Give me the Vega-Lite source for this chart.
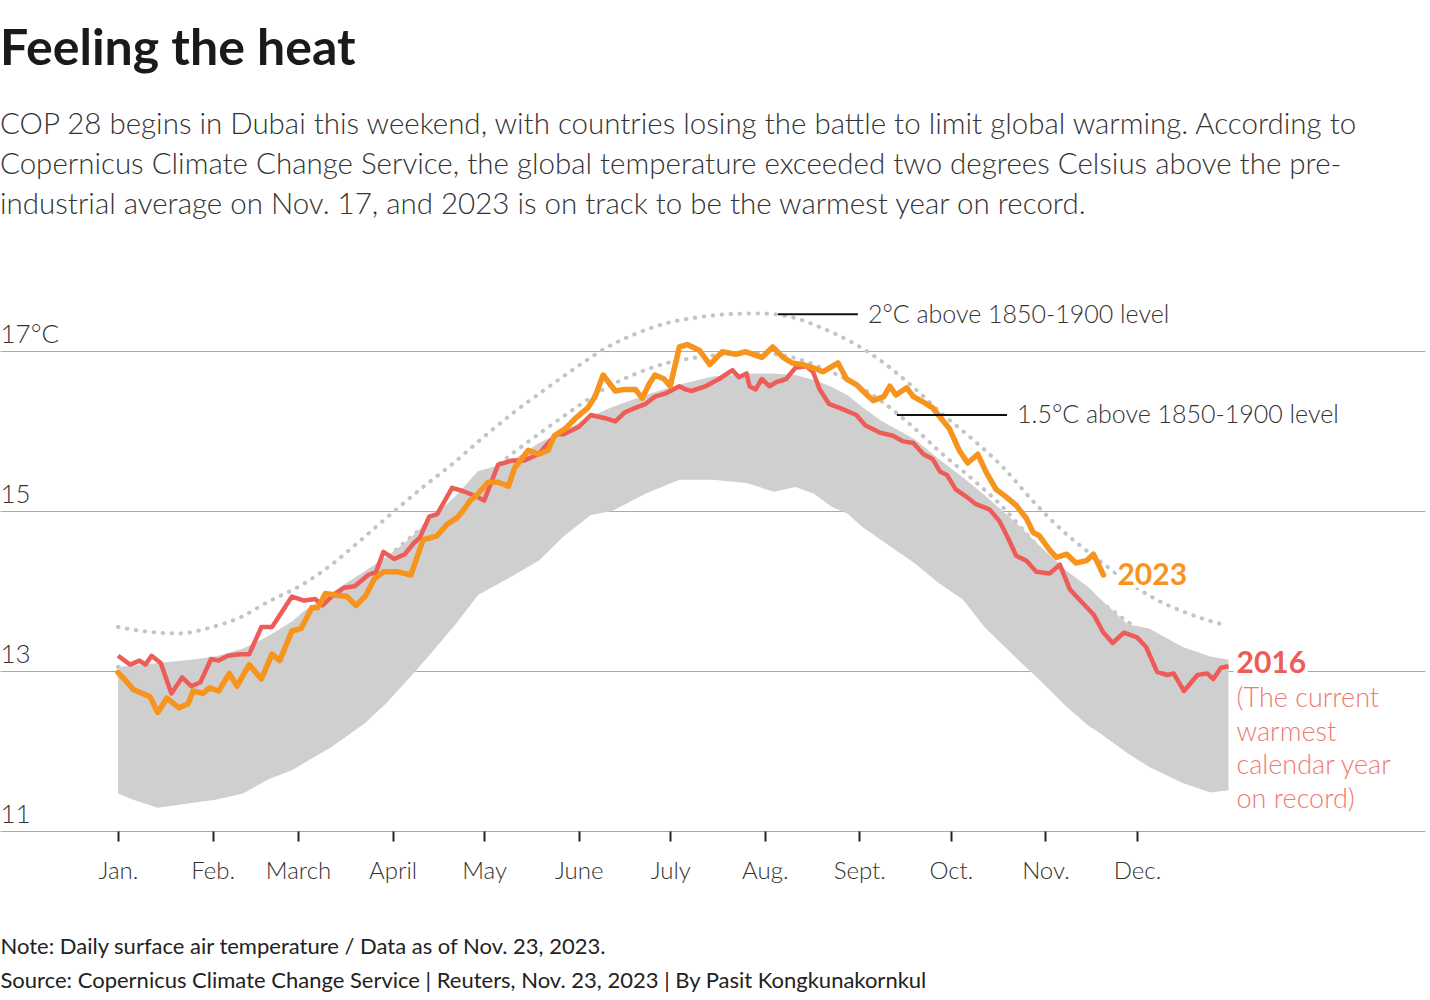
{
  "$schema": "https://vega.github.io/schema/vega-lite/v6.json",
  "width": 1425,
  "height": 560,
  "autosize": {"type": "none"},
  "padding": {"left": 0, "top": 271, "right": 5, "bottom": 169},
  "background": "white",
  "config": {"view": {"stroke": null}, "font": "Lato"},
  "title": {
    "text": "Feeling the heat",
    "subtitle": [
      "COP 28 begins in Dubai this weekend, with countries losing the battle to limit global warming. According to",
      "Copernicus Climate Change Service, the global temperature exceeded two degrees Celsius above the pre-",
      "industrial average on Nov. 17, and 2023 is on track to be the warmest year on record."
    ],
    "anchor": "start",
    "frame": "group",
    "font": "Lato",
    "fontSize": 50,
    "fontWeight": "bold",
    "color": "#1a1a1a",
    "subtitleFont": "Lato",
    "subtitleFontSize": 29.5,
    "subtitleFontWeight": 300,
    "subtitleColor": "#333333",
    "subtitleLineHeight": 40,
    "subtitlePadding": 36,
    "offset": 52
  },
  "datasets": {
    "dotted": [
      {"s": "2C", "day": 0, "t": 13.55}, {"s": "2C", "day": 10, "t": 13.49}, {"s": "2C", "day": 20, "t": 13.47}, {"s": "2C", "day": 30, "t": 13.54},
      {"s": "2C", "day": 40, "t": 13.67}, {"s": "2C", "day": 50, "t": 13.88}, {"s": "2C", "day": 60, "t": 14.07}, {"s": "2C", "day": 70, "t": 14.33},
      {"s": "2C", "day": 80, "t": 14.65}, {"s": "2C", "day": 90, "t": 14.98}, {"s": "2C", "day": 100, "t": 15.3}, {"s": "2C", "day": 110, "t": 15.6},
      {"s": "2C", "day": 120, "t": 15.93}, {"s": "2C", "day": 130, "t": 16.24}, {"s": "2C", "day": 140, "t": 16.52}, {"s": "2C", "day": 150, "t": 16.79},
      {"s": "2C", "day": 160, "t": 17.04}, {"s": "2C", "day": 170, "t": 17.22}, {"s": "2C", "day": 180, "t": 17.35}, {"s": "2C", "day": 190, "t": 17.42},
      {"s": "2C", "day": 200, "t": 17.46}, {"s": "2C", "day": 210, "t": 17.47}, {"s": "2C", "day": 220, "t": 17.43}, {"s": "2C", "day": 230, "t": 17.3},
      {"s": "2C", "day": 240, "t": 17.12}, {"s": "2C", "day": 250, "t": 16.88}, {"s": "2C", "day": 260, "t": 16.57}, {"s": "2C", "day": 270, "t": 16.22},
      {"s": "2C", "day": 280, "t": 15.9}, {"s": "2C", "day": 290, "t": 15.55}, {"s": "2C", "day": 300, "t": 15.12}, {"s": "2C", "day": 310, "t": 14.74},
      {"s": "2C", "day": 320, "t": 14.43}, {"s": "2C", "day": 330, "t": 14.14}, {"s": "2C", "day": 340, "t": 13.9}, {"s": "2C", "day": 350, "t": 13.73},
      {"s": "2C", "day": 363, "t": 13.57},
      {"s": "15C", "day": 0, "t": 13.05}, {"s": "15C", "day": 10, "t": 12.99}, {"s": "15C", "day": 20, "t": 12.97}, {"s": "15C", "day": 30, "t": 13.04},
      {"s": "15C", "day": 40, "t": 13.17}, {"s": "15C", "day": 50, "t": 13.38}, {"s": "15C", "day": 60, "t": 13.57}, {"s": "15C", "day": 70, "t": 13.83},
      {"s": "15C", "day": 80, "t": 14.15}, {"s": "15C", "day": 90, "t": 14.48}, {"s": "15C", "day": 100, "t": 14.8}, {"s": "15C", "day": 110, "t": 15.1},
      {"s": "15C", "day": 120, "t": 15.43}, {"s": "15C", "day": 130, "t": 15.74}, {"s": "15C", "day": 140, "t": 16.02}, {"s": "15C", "day": 150, "t": 16.29},
      {"s": "15C", "day": 160, "t": 16.54}, {"s": "15C", "day": 170, "t": 16.72}, {"s": "15C", "day": 180, "t": 16.85}, {"s": "15C", "day": 190, "t": 16.92},
      {"s": "15C", "day": 200, "t": 16.96}, {"s": "15C", "day": 210, "t": 16.97}, {"s": "15C", "day": 220, "t": 16.93}, {"s": "15C", "day": 230, "t": 16.8},
      {"s": "15C", "day": 240, "t": 16.62}, {"s": "15C", "day": 250, "t": 16.38}, {"s": "15C", "day": 260, "t": 16.07}, {"s": "15C", "day": 270, "t": 15.72},
      {"s": "15C", "day": 280, "t": 15.4}, {"s": "15C", "day": 290, "t": 15.05}, {"s": "15C", "day": 300, "t": 14.62}, {"s": "15C", "day": 310, "t": 14.24},
      {"s": "15C", "day": 320, "t": 13.93}, {"s": "15C", "day": 330, "t": 13.64}, {"s": "15C", "day": 340, "t": 13.4}, {"s": "15C", "day": 350, "t": 13.23},
      {"s": "15C", "day": 363, "t": 13.07}
    ],
    "band": [
      {"day": 0, "t": 11.47, "t2": 13.05}, {"day": 5, "t": 11.39, "t2": 13.07}, {"day": 13, "t": 11.29, "t2": 13.1}, {"day": 24, "t": 11.35, "t2": 13.14},
      {"day": 32, "t": 11.39, "t2": 13.18}, {"day": 41, "t": 11.47, "t2": 13.28}, {"day": 49, "t": 11.64, "t2": 13.43}, {"day": 57, "t": 11.76, "t2": 13.62},
      {"day": 61, "t": 11.85, "t2": 13.75}, {"day": 70, "t": 12.05, "t2": 13.98}, {"day": 81, "t": 12.35, "t2": 14.25}, {"day": 88, "t": 12.6, "t2": 14.43},
      {"day": 94, "t": 12.85, "t2": 14.6}, {"day": 101, "t": 13.15, "t2": 14.85}, {"day": 111, "t": 13.6, "t2": 15.2}, {"day": 118, "t": 13.95, "t2": 15.5},
      {"day": 128, "t": 14.16, "t2": 15.6}, {"day": 138, "t": 14.38, "t2": 15.85}, {"day": 146, "t": 14.68, "t2": 16.0}, {"day": 155, "t": 14.95, "t2": 16.18},
      {"day": 162, "t": 15.0, "t2": 16.3}, {"day": 173, "t": 15.22, "t2": 16.45}, {"day": 184, "t": 15.39, "t2": 16.58}, {"day": 195, "t": 15.39, "t2": 16.68},
      {"day": 206, "t": 15.35, "t2": 16.72}, {"day": 215, "t": 15.24, "t2": 16.72}, {"day": 222, "t": 15.3, "t2": 16.7}, {"day": 228, "t": 15.22, "t2": 16.64},
      {"day": 234, "t": 15.05, "t2": 16.55}, {"day": 239, "t": 14.97, "t2": 16.45}, {"day": 244, "t": 14.8, "t2": 16.3}, {"day": 250, "t": 14.64, "t2": 16.13},
      {"day": 261, "t": 14.35, "t2": 15.9}, {"day": 269, "t": 14.1, "t2": 15.65}, {"day": 277, "t": 13.89, "t2": 15.42}, {"day": 284, "t": 13.55, "t2": 15.2},
      {"day": 295, "t": 13.14, "t2": 14.83}, {"day": 302, "t": 12.89, "t2": 14.57}, {"day": 311, "t": 12.55, "t2": 14.25}, {"day": 318, "t": 12.32, "t2": 14.05},
      {"day": 322, "t": 12.22, "t2": 13.9}, {"day": 331, "t": 11.97, "t2": 13.58}, {"day": 338, "t": 11.8, "t2": 13.53}, {"day": 349, "t": 11.6, "t2": 13.3},
      {"day": 358, "t": 11.48, "t2": 13.18}, {"day": 364, "t": 11.51, "t2": 13.14}
    ],
    "y2016": [
      {"day": 0, "t": 13.19}, {"day": 4, "t": 13.08}, {"day": 7, "t": 13.13}, {"day": 9, "t": 13.08}, {"day": 11, "t": 13.19}, {"day": 14, "t": 13.1},
      {"day": 17.5, "t": 12.72}, {"day": 21, "t": 12.92}, {"day": 24, "t": 12.81}, {"day": 27, "t": 12.86}, {"day": 30.5, "t": 13.15}, {"day": 33, "t": 13.13},
      {"day": 36, "t": 13.19}, {"day": 40, "t": 13.21}, {"day": 43, "t": 13.21}, {"day": 47, "t": 13.55}, {"day": 50.5, "t": 13.55}, {"day": 57, "t": 13.93},
      {"day": 61, "t": 13.88}, {"day": 64.6, "t": 13.9}, {"day": 67, "t": 13.82}, {"day": 70, "t": 13.93}, {"day": 74, "t": 14.04}, {"day": 77.6, "t": 14.06},
      {"day": 82, "t": 14.2}, {"day": 84.6, "t": 14.24}, {"day": 87, "t": 14.49}, {"day": 90.5, "t": 14.4}, {"day": 94, "t": 14.46}, {"day": 97, "t": 14.6},
      {"day": 99, "t": 14.67}, {"day": 102, "t": 14.93}, {"day": 104.6, "t": 14.96}, {"day": 109.5, "t": 15.29}, {"day": 113, "t": 15.25}, {"day": 117.6, "t": 15.18},
      {"day": 120, "t": 15.13}, {"day": 124.6, "t": 15.58}, {"day": 129, "t": 15.63}, {"day": 133, "t": 15.63}, {"day": 137.8, "t": 15.71}, {"day": 142, "t": 15.89},
      {"day": 144, "t": 15.96}, {"day": 146, "t": 15.96}, {"day": 151, "t": 16.05}, {"day": 155, "t": 16.2}, {"day": 159.7, "t": 16.16}, {"day": 163, "t": 16.12},
      {"day": 166, "t": 16.23}, {"day": 169.6, "t": 16.29}, {"day": 173, "t": 16.34}, {"day": 176, "t": 16.43}, {"day": 179.5, "t": 16.47}, {"day": 184, "t": 16.56},
      {"day": 186, "t": 16.52}, {"day": 188, "t": 16.5}, {"day": 192.7, "t": 16.56}, {"day": 195, "t": 16.61}, {"day": 197, "t": 16.65}, {"day": 201.4, "t": 16.76},
      {"day": 203.6, "t": 16.67}, {"day": 206, "t": 16.72}, {"day": 207, "t": 16.56}, {"day": 209, "t": 16.52}, {"day": 211, "t": 16.65}, {"day": 213.5, "t": 16.56},
      {"day": 215.7, "t": 16.61}, {"day": 219, "t": 16.65}, {"day": 222, "t": 16.79}, {"day": 225.6, "t": 16.81}, {"day": 227.8, "t": 16.74}, {"day": 230, "t": 16.52},
      {"day": 233, "t": 16.34}, {"day": 237.7, "t": 16.27}, {"day": 242, "t": 16.2}, {"day": 245, "t": 16.07}, {"day": 249.7, "t": 15.98}, {"day": 254, "t": 15.94},
      {"day": 257.4, "t": 15.87}, {"day": 260.7, "t": 15.85}, {"day": 264, "t": 15.71}, {"day": 267, "t": 15.65}, {"day": 269.5, "t": 15.49}, {"day": 271.7, "t": 15.45},
      {"day": 274.6, "t": 15.27}, {"day": 278, "t": 15.18}, {"day": 281, "t": 15.09}, {"day": 285.6, "t": 15.02}, {"day": 289, "t": 14.87}, {"day": 292, "t": 14.64},
      {"day": 294.4, "t": 14.44}, {"day": 297.7, "t": 14.38}, {"day": 301, "t": 14.24}, {"day": 305.4, "t": 14.22}, {"day": 308.7, "t": 14.33}, {"day": 312, "t": 14.02},
      {"day": 316.4, "t": 13.84}, {"day": 319.7, "t": 13.71}, {"day": 323, "t": 13.48}, {"day": 326, "t": 13.35}, {"day": 329.7, "t": 13.48}, {"day": 334, "t": 13.42},
      {"day": 337, "t": 13.3}, {"day": 340.6, "t": 12.99}, {"day": 344, "t": 12.95}, {"day": 346, "t": 12.97}, {"day": 349.4, "t": 12.75}, {"day": 353.8, "t": 12.95},
      {"day": 357, "t": 12.97}, {"day": 359, "t": 12.9}, {"day": 361.5, "t": 13.04}, {"day": 364, "t": 13.06}
    ],
    "y2023": [
      {"day": 0, "t": 12.98}, {"day": 2, "t": 12.9}, {"day": 5, "t": 12.77}, {"day": 8, "t": 12.72}, {"day": 10.5, "t": 12.68}, {"day": 13, "t": 12.48},
      {"day": 16, "t": 12.66}, {"day": 19, "t": 12.57}, {"day": 20, "t": 12.54}, {"day": 23, "t": 12.59}, {"day": 24.6, "t": 12.75}, {"day": 27.8, "t": 12.72},
      {"day": 30, "t": 12.79}, {"day": 33, "t": 12.75}, {"day": 36.5, "t": 12.97}, {"day": 39, "t": 12.81}, {"day": 43, "t": 13.08}, {"day": 47, "t": 12.9},
      {"day": 50.5, "t": 13.21}, {"day": 53, "t": 13.13}, {"day": 57, "t": 13.5}, {"day": 60, "t": 13.53}, {"day": 63.5, "t": 13.79}, {"day": 65.5, "t": 13.79},
      {"day": 68, "t": 13.97}, {"day": 71, "t": 13.95}, {"day": 75, "t": 13.93}, {"day": 78, "t": 13.82}, {"day": 81, "t": 13.93}, {"day": 84, "t": 14.15},
      {"day": 87, "t": 14.24}, {"day": 91.6, "t": 14.24}, {"day": 93.8, "t": 14.22}, {"day": 96, "t": 14.2}, {"day": 98, "t": 14.42}, {"day": 100, "t": 14.64},
      {"day": 104.6, "t": 14.69}, {"day": 108, "t": 14.84}, {"day": 111, "t": 14.91}, {"day": 113, "t": 15.0}, {"day": 115.4, "t": 15.13}, {"day": 117.6, "t": 15.2},
      {"day": 121.3, "t": 15.36}, {"day": 124.6, "t": 15.36}, {"day": 128, "t": 15.31}, {"day": 130, "t": 15.54}, {"day": 134.5, "t": 15.76}, {"day": 137.8, "t": 15.71},
      {"day": 141, "t": 15.76}, {"day": 143, "t": 15.94}, {"day": 146.6, "t": 16.03}, {"day": 150, "t": 16.16}, {"day": 154, "t": 16.29}, {"day": 156.4, "t": 16.43},
      {"day": 159, "t": 16.7}, {"day": 163, "t": 16.5}, {"day": 166, "t": 16.52}, {"day": 169.6, "t": 16.52}, {"day": 171.8, "t": 16.41}, {"day": 174, "t": 16.58},
      {"day": 176, "t": 16.7}, {"day": 179, "t": 16.65}, {"day": 181, "t": 16.56}, {"day": 184, "t": 17.05}, {"day": 186.6, "t": 17.08}, {"day": 190.5, "t": 17.01},
      {"day": 194, "t": 16.83}, {"day": 198, "t": 16.99}, {"day": 202.5, "t": 16.96}, {"day": 205.8, "t": 16.99}, {"day": 208, "t": 16.96}, {"day": 211, "t": 16.92},
      {"day": 214.6, "t": 17.05}, {"day": 218, "t": 16.92}, {"day": 221, "t": 16.85}, {"day": 224.5, "t": 16.83}, {"day": 227.8, "t": 16.79}, {"day": 231, "t": 16.74},
      {"day": 236, "t": 16.85}, {"day": 238.8, "t": 16.65}, {"day": 242, "t": 16.58}, {"day": 245, "t": 16.47}, {"day": 247.5, "t": 16.38}, {"day": 251, "t": 16.43},
      {"day": 253, "t": 16.56}, {"day": 255, "t": 16.45}, {"day": 258.5, "t": 16.54}, {"day": 260.7, "t": 16.43}, {"day": 264, "t": 16.36}, {"day": 267, "t": 16.29},
      {"day": 270.6, "t": 16.12}, {"day": 272.5, "t": 16.03}, {"day": 275.7, "t": 15.76}, {"day": 278.5, "t": 15.6}, {"day": 281.8, "t": 15.71}, {"day": 284.5, "t": 15.49},
      {"day": 287.8, "t": 15.27}, {"day": 291, "t": 15.18}, {"day": 294.4, "t": 15.07}, {"day": 297.7, "t": 14.91}, {"day": 300, "t": 14.73}, {"day": 302, "t": 14.69},
      {"day": 305.4, "t": 14.51}, {"day": 307.6, "t": 14.42}, {"day": 311, "t": 14.46}, {"day": 314, "t": 14.35}, {"day": 317.5, "t": 14.38}, {"day": 319.7, "t": 14.46},
      {"day": 321.4, "t": 14.33}, {"day": 323, "t": 14.2}
    ],
    "leaders": [
      {"day": 216.3, "day2": 242.5, "t": 17.46},
      {"day": 255.3, "day2": 291.4, "t": 16.2}
    ],
    "notes": [
      {"day": 245.8, "t": 17.45, "text": "2°C above 1850-1900 level"},
      {"day": 294.7, "t": 16.2, "text": "1.5°C above 1850-1900 level"}
    ],
    "lab2023": [{"day": 323, "t": 14.2, "text": "2023"}],
    "lab2016": [{"day": 364, "t": 13.06, "text": "2016"}],
    "lab2016b": [{"day": 364, "t": 13.06, "text": "(The current\nwarmest\ncalendar year\non record)"}]
  },
  "encoding": {
    "x": {
      "field": "day",
      "type": "quantitative",
      "scale": {"domain": [-38.68, 428.4], "nice": false, "zero": false},
      "axis": {
        "values": [0, 31, 59, 90, 120, 151, 181, 212, 243, 273, 304, 334],
        "labelExpr": "['Jan.','Feb.','March','April','May','June','July','Aug.','Sept.','Oct.','Nov.','Dec.'][indexof([0,31,59,90,120,151,181,212,243,273,304,334], datum.value)]",
        "domain": false,
        "grid": false,
        "ticks": true,
        "tickSize": 10,
        "tickWidth": 2,
        "tickColor": "#222222",
        "labelFont": "Lato",
        "labelFontSize": 24,
        "labelFontWeight": 300,
        "labelColor": "#333333",
        "labelPadding": 18,
        "labelFlush": false,
        "labelOverlap": false,
        "title": [
          "Note: Daily surface air temperature / Data as of Nov. 23, 2023.",
          "Source: Copernicus Climate Change Service | Reuters, Nov. 23, 2023 | By Pasit Kongkunakornkul"
        ],
        "titleFont": "Lato",
        "titleFontSize": 22,
        "titleFontWeight": "normal",
        "titleColor": "#222222",
        "titleLineHeight": 34,
        "titleAnchor": "start",
        "titleAlign": "left",
        "titleBaseline": "top",
        "titlePadding": 53
      }
    },
    "y": {
      "field": "t",
      "type": "quantitative",
      "scale": {"domain": [11, 18], "nice": false, "zero": false},
      "axis": {
        "values": [11, 13, 15, 17],
        "labelExpr": "datum.value == 17 ? '17°C' : datum.label",
        "domain": false,
        "ticks": false,
        "grid": true,
        "gridColor": "#aaaaaa",
        "gridWidth": 1,
        "labelAlign": "left",
        "labelBaseline": "alphabetic",
        "labelPadding": 0,
        "labelOffset": -9,
        "labelFont": "Lato",
        "labelFontSize": 26,
        "labelFontWeight": 300,
        "labelColor": "#333333",
        "title": null
      }
    }
  },
  "layer": [
    {
      "data": {"name": "dotted"},
      "mark": {"type": "line", "color": "#c4c4c4", "strokeWidth": 4, "strokeDash": [0.5, 8.5], "strokeCap": "round", "interpolate": "monotone"},
      "encoding": {"detail": {"field": "s", "type": "nominal"}}
    },
    {
      "data": {"name": "band"},
      "mark": {"type": "area", "color": "#cfcfcf", "opacity": 1},
      "encoding": {"y2": {"field": "t2"}}
    },
    {
      "data": {"name": "y2016"},
      "mark": {"type": "line", "color": "#ee5c57", "strokeWidth": 4.5, "strokeJoin": "round"},
      "encoding": {}
    },
    {
      "data": {"name": "y2023"},
      "mark": {"type": "line", "color": "#f7941d", "strokeWidth": 5.5, "strokeJoin": "round", "strokeCap": "round"},
      "encoding": {}
    },
    {
      "data": {"name": "leaders"},
      "mark": {"type": "rule", "color": "#111111", "strokeWidth": 2},
      "encoding": {"x2": {"field": "day2"}}
    },
    {
      "data": {"name": "notes"},
      "mark": {"type": "text", "align": "left", "baseline": "middle", "font": "Lato", "fontSize": 25, "fontWeight": 300, "color": "#333333"},
      "encoding": {"text": {"field": "text", "type": "nominal"}}
    },
    {
      "data": {"name": "lab2023"},
      "mark": {"type": "text", "align": "left", "baseline": "middle", "dx": 14, "dy": 1, "font": "Lato", "fontSize": 30, "fontWeight": "bold", "fill": "white", "stroke": "white", "strokeWidth": 8, "strokeJoin": "round"},
      "encoding": {"text": {"field": "text", "type": "nominal"}}
    },
    {
      "data": {"name": "lab2023"},
      "mark": {"type": "text", "align": "left", "baseline": "middle", "dx": 14, "dy": 1, "font": "Lato", "fontSize": 30, "fontWeight": "bold", "color": "#f7941d"},
      "encoding": {"text": {"field": "text", "type": "nominal"}}
    },
    {
      "data": {"name": "lab2016"},
      "mark": {"type": "text", "align": "left", "baseline": "middle", "dx": 8, "dy": -2, "font": "Lato", "fontSize": 30, "fontWeight": "bold", "fill": "white", "stroke": "white", "strokeWidth": 8, "strokeJoin": "round"},
      "encoding": {"text": {"field": "text", "type": "nominal"}}
    },
    {
      "data": {"name": "lab2016"},
      "mark": {"type": "text", "align": "left", "baseline": "middle", "dx": 8, "dy": -2, "font": "Lato", "fontSize": 30, "fontWeight": "bold", "color": "#ee5c57"},
      "encoding": {"text": {"field": "text", "type": "nominal"}}
    },
    {
      "data": {"name": "lab2016b"},
      "mark": {"type": "text", "align": "left", "baseline": "top", "dx": 8, "dy": 20, "font": "Lato", "fontSize": 27, "fontWeight": 300, "color": "#f07a72", "lineBreak": "\n", "lineHeight": 33.5},
      "encoding": {"text": {"field": "text", "type": "nominal"}}
    }
  ]
}
